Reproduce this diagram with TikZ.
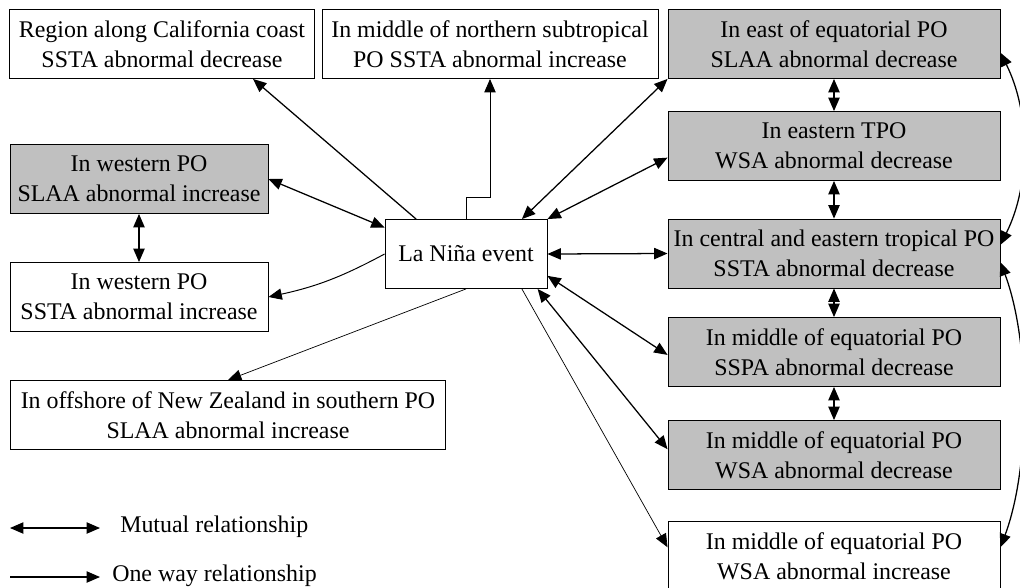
\documentclass[tikz,border=0pt]{standalone}
\usepackage{fontspec}
\setmainfont{Liberation Serif}
\usetikzlibrary{arrows.meta}
\definecolor{boxgray}{RGB}{192,192,192}
\begin{document}
\begin{tikzpicture}[x=0.025cm,y=-0.025cm,
  every node/.style={font=\fontsize{17}{21.5}\selectfont},
  box/.style={draw,line width=0.6pt,align=center,minimum height=1.725cm,inner sep=0pt},
  graybox/.style={box,fill=boxgray},
  tip/.tip={Triangle[length=9.5pt,width=8pt]},
  mutual/.style={tip-tip,line width=0.9pt},
  oneway/.style={-tip,line width=0.9pt},
  thinway/.style={-tip,line width=0.5pt}]
\useasboundingbox (0,0) rectangle (1020,587);
\clip (0,0) rectangle (1020,587);

\node (lanina) at (466,254) [box,minimum width=4.05cm] {La Niña event};
\node (calif) at (162,44) [box,minimum width=7.625cm] {Region along California coast\\SSTA abnormal decrease};
\node (north) at (490,44) [box,minimum width=8.4cm] {In middle of northern subtropical\\PO SSTA abnormal increase};
\node (slaae) at (834,44) [graybox,minimum width=8.3cm] {In east of equatorial PO\\SLAA abnormal decrease};
\node (wsae) at (834,146) [graybox,minimum width=8.3cm] {In eastern TPO\\WSA abnormal decrease};
\node (ssta) at (834,253.5) [graybox,minimum width=8.3cm] {In central and eastern tropical PO\\SSTA abnormal decrease};
\node (sspa) at (834,352) [graybox,minimum width=8.3cm] {In middle of equatorial PO\\SSPA abnormal decrease};
\node (wsam) at (834,455) [graybox,minimum width=8.3cm] {In middle of equatorial PO\\WSA abnormal decrease};
\node (wsai) at (834,556) [box,minimum width=8.3cm] {In middle of equatorial PO\\WSA abnormal increase};
\node (slaaw) at (139,179) [graybox,minimum width=6.45cm] {In western PO\\SLAA abnormal increase};
\node (sstaw) at (139,297) [box,minimum width=6.45cm] {In western PO\\SSTA abnormal increase};
\node (nz) at (228,415) [box,minimum width=10.875cm] {In offshore of New Zealand in southern PO\\SLAA abnormal increase};

\draw [oneway] (lanina.145) -- (calif.-21);
\draw [oneway,line width=0.7pt] (lanina.north) -- ++(0,-22) -| (north.south);
\draw [mutual] (lanina.32) -- (slaae.south west);
\draw [mutual] (lanina.north east) -- (wsae.184);
\draw [mutual] (lanina.east) -- (ssta.west);
\draw [mutual] (lanina.-15) -- (sspa.181);
\draw [mutual] (lanina.-26) -- (wsam.178);
\draw [thinway] (lanina.-32) -- (wsai.177);
\draw [mutual] (lanina.162) -- (slaaw.east);
\draw [oneway,line width=0.7pt] (lanina.west) to [bend left=8] (sstaw.east);
\draw [thinway] (lanina.south) -- (nz.north);

\draw [mutual] (slaaw.south) -- (sstaw.north);
\draw [mutual] (slaae.south) -- (wsae.north);
\draw [mutual] (wsae.south) -- (ssta.north);
\draw [mutual] (ssta.south) -- (sspa.north);
\draw [mutual] (sspa.south) -- (wsam.north);

\draw [mutual] (slaae.-3) .. controls +(30,60) and +(30,-60) .. (ssta.3);
\draw [mutual] (ssta.-3) .. controls +(30,80) and +(30,-80) .. (wsai.3);

\coordinate (mutualA) at (10,528);
\coordinate (mutualB) at (100,528);
\coordinate (onewayA) at (10,577);
\coordinate (onewayB) at (100,577);
\draw [mutual] (mutualA) -- (mutualB);
\draw [oneway] (onewayA) -- (onewayB);
\node (mutualtxt) at (120,527) [anchor=west,inner sep=0pt] {Mutual relationship};
\node (onewaytxt) at (112,576) [anchor=west,inner sep=0pt] {One way relationship};

\end{tikzpicture}
\end{document}
